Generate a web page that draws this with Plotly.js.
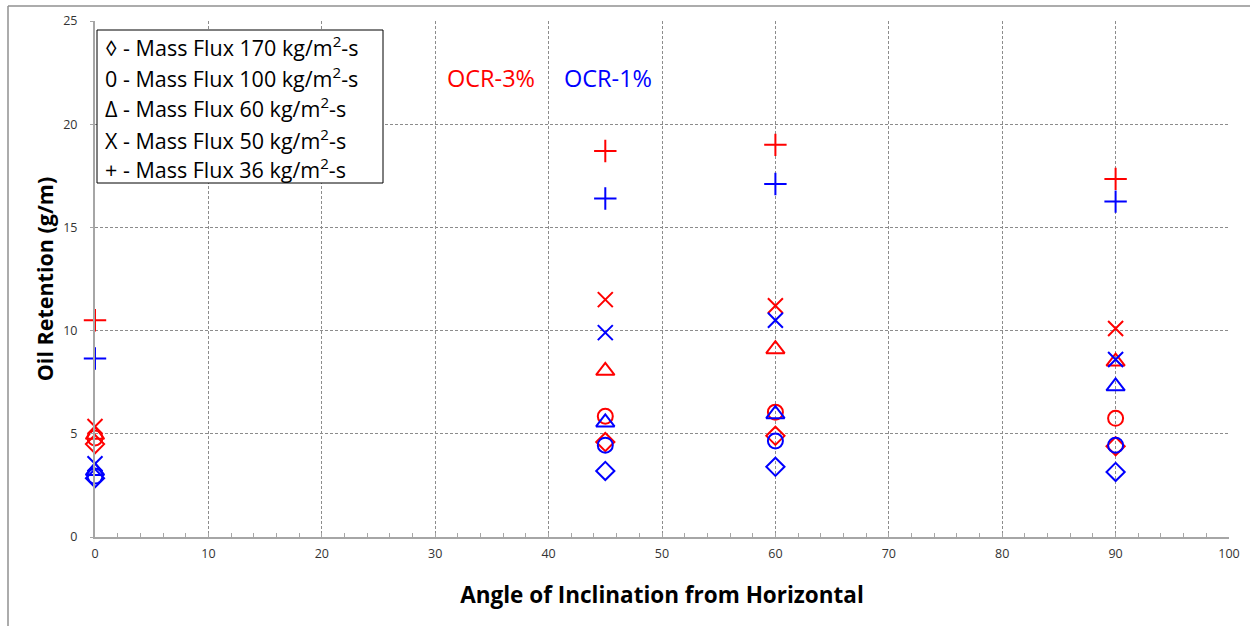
<!DOCTYPE html>
<html>
<head>
<meta charset="utf-8">
<script src="https://cdn.plot.ly/plotly-3.0.1.min.js"></script>
<style>html,body{margin:0;padding:0;background:#fff;}#chart{width:1250px;height:626px;}</style>
</head>
<body>
<div id="chart"></div>
<script>
// Angles of inclination (degrees)
const angles = [0, 45, 60, 90];

// OCR-3% (red) oil retention, g/m
const ocr3_flux170 = [4.5, 4.6, 4.9, 4.4];
const ocr3_flux100 = [4.8, 5.85, 6.05, 5.75];
const ocr3_flux60  = [4.95, 8.05, 9.1, 8.5];
const ocr3_flux50  = [5.35, 11.5, 11.2, 10.1];
const ocr3_flux36  = [10.5, 18.7, 19.0, 17.35];

// OCR-1% (blue) oil retention, g/m
const ocr1_flux170 = [2.85, 3.2, 3.4, 3.15];
const ocr1_flux100 = [2.95, 4.45, 4.65, 4.45];
const ocr1_flux60  = [3.2, 5.55, 5.95, 7.3];
const ocr1_flux50  = [3.55, 9.9, 10.5, 8.6];
const ocr1_flux36  = [8.65, 16.4, 17.1, 16.25];

const legendLines = [
  "\u25CA - Mass Flux 170 kg/m<sup>2</sup>-s",
  "0 - Mass Flux 100 kg/m<sup>2</sup>-s",
  "\u0394 - Mass Flux 60 kg/m<sup>2</sup>-s",
  "X - Mass Flux 50 kg/m<sup>2</sup>-s",
  "+ - Mass Flux 36 kg/m<sup>2</sup>-s"
];

const FONT = "'Open Sans', 'Noto Sans', sans-serif";
const RED = "#FF0000", BLUE = "#0000FF";
function tr(name, y, symbol, color, size) {
  return {
    type: "scatter", mode: "markers", name: name, x: angles, y: y,
    cliponaxis: false,
    marker: {symbol: symbol, size: size, color: color, line: {color: color, width: 2}},
    showlegend: false, hoverinfo: "x+y"
  };
}
const data = [
  tr("OCR-3% 170", ocr3_flux170, "diamond-open", RED, 14),
  tr("OCR-3% 100", ocr3_flux100, "circle-open", RED, 15),
  tr("OCR-3% 60",  ocr3_flux60,  "triangle-up-open", RED, 16),
  tr("OCR-3% 50",  ocr3_flux50,  "x-thin-open", RED, 15),
  tr("OCR-3% 36",  ocr3_flux36,  "cross-thin-open", RED, 16),
  tr("OCR-1% 170", ocr1_flux170, "diamond-open", BLUE, 14),
  tr("OCR-1% 100", ocr1_flux100, "circle-open", BLUE, 15),
  tr("OCR-1% 60",  ocr1_flux60,  "triangle-up-open", BLUE, 16),
  tr("OCR-1% 50",  ocr1_flux50,  "x-thin-open", BLUE, 15),
  tr("OCR-1% 36",  ocr1_flux36,  "cross-thin-open", BLUE, 16)
];

const L = 95, R = 1229, T = 21, B = 537;
const W = R - L, H = B - T;
const px = v => (v - L) / W;
const py = v => (B - v) / H;

const legendY = [47, 78, 108, 139, 169];
const annotations = legendLines.map((t, i) => ({
  xref: "paper", yref: "paper", x: px(103), y: py(legendY[i]),
  xanchor: "left", yanchor: "middle", text: t, showarrow: false,
  font: {family: FONT, size: 21.5, color: "#000"}
}));
annotations.push({
  xref: "paper", yref: "paper", x: px(491), y: py(78), xanchor: "center", yanchor: "middle",
  text: "OCR-3%", showarrow: false, font: {family: FONT, size: 23.5, color: RED}
});
annotations.push({
  xref: "paper", yref: "paper", x: px(608), y: py(78), xanchor: "center", yanchor: "middle",
  text: "OCR-1%", showarrow: false, font: {family: FONT, size: 23.5, color: BLUE}
});

const layout = {
  width: 1250, height: 626,
  margin: {l: L, r: 1250 - R, t: T, b: 626 - B, pad: 0},
  paper_bgcolor: "#fff", plot_bgcolor: "#fff",
  font: {family: FONT, color: "#404040"},
  showlegend: false,
  xaxis: {
    range: [0, 100], dtick: 10, tick0: 0, autorange: false,
    showgrid: true, gridcolor: "#8c8c8c", griddash: "3px,2px", gridwidth: 1,
    zeroline: false, showline: true, linecolor: "#a6a6a6", linewidth: 2,
    ticks: "inside", ticklen: 4, tickcolor: "#a6a6a6",
    minor: {dtick: 2, ticks: "inside", ticklen: 4, tickcolor: "#a6a6a6", showgrid: false},
    tickfont: {family: FONT, size: 12.5, color: "#333333"},
    ticklabelstandoff: 4,
    title: {text: "Angle of Inclination from Horizontal", standoff: 26,
            font: {family: FONT, size: 22.5, color: "#000", weight: "bold"}}
  },
  yaxis: {
    range: [0, 25], dtick: 5, tick0: 0, autorange: false,
    showgrid: true, gridcolor: "#8c8c8c", griddash: "3px,2px", gridwidth: 1,
    zeroline: false, showline: true, linecolor: "#a6a6a6", linewidth: 2,
    ticks: "outside", ticklen: 3, tickcolor: "#a6a6a6",
    tickfont: {family: FONT, size: 12.5, color: "#333333"},
    ticklabelstandoff: 10,
    title: {text: "Oil Retention (g/m)", standoff: 4,
            font: {family: FONT, size: 21.5, color: "#000", weight: "bold"}}
  },
  shapes: [
    {type: "rect", xref: "paper", yref: "paper", x0: px(97), x1: px(383), y0: py(183), y1: py(30),
     line: {color: "#000", width: 1}, fillcolor: "#fff", layer: "above"},
    {type: "line", xref: "paper", yref: "paper", x0: px(8), x1: px(1250), y0: py(6), y1: py(6),
     line: {color: "#909090", width: 1.5}},
    {type: "line", xref: "paper", yref: "paper", x0: px(8), x1: px(8), y0: py(6), y1: py(626),
     line: {color: "#909090", width: 1.5}}
  ],
  annotations: annotations
};

Plotly.newPlot("chart", data, layout, {displayModeBar: false, staticPlot: true});
</script>
</body>
</html>
